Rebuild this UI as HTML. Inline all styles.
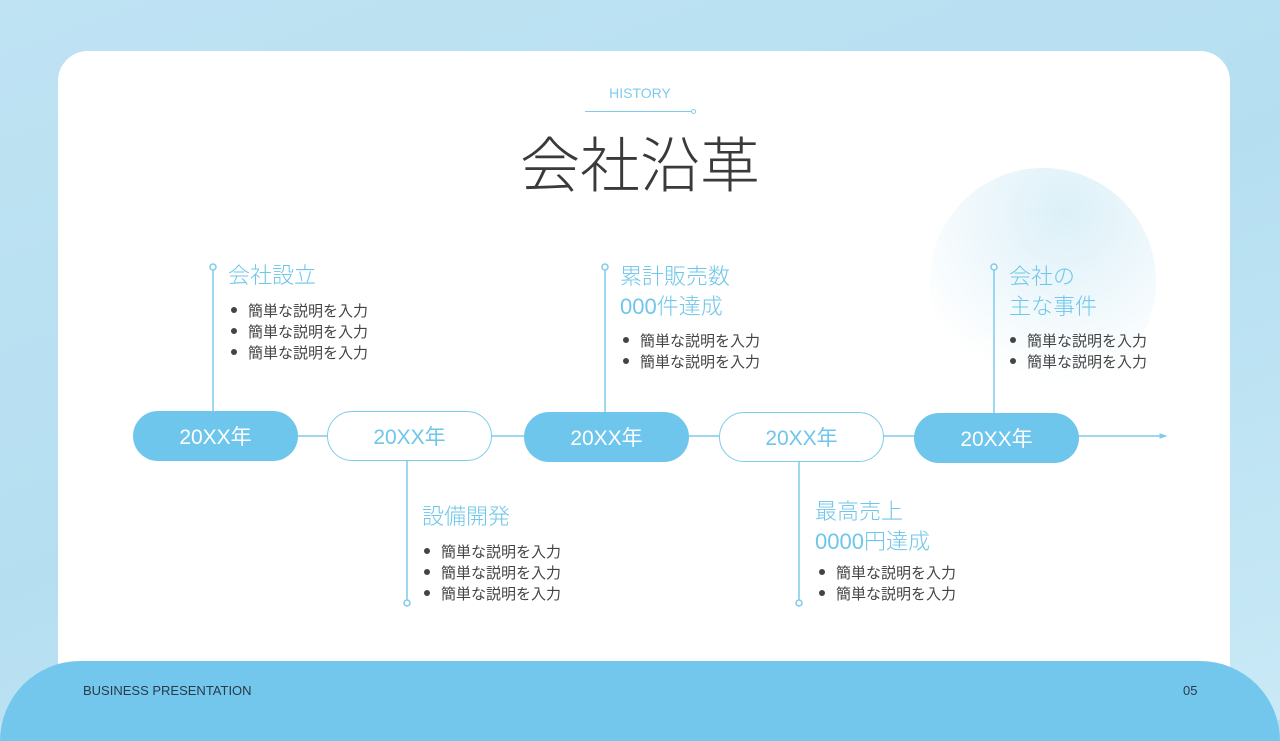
<!DOCTYPE html>
<html><head><meta charset="utf-8"><style>
*{margin:0;padding:0;box-sizing:border-box}
body{width:1280px;height:720px;overflow:hidden;position:relative;background:linear-gradient(160deg,#bfe3f3 0%,#b5dff1 50%,#c9e9f6 100%);font-family:"Liberation Sans","Noto Sans CJK JP",sans-serif}
.card{position:absolute;left:58px;top:51px;width:1172px;height:660px;background:#fff;border-radius:30px;overflow:hidden}
.blob{position:absolute;left:872px;top:117px;width:226px;height:226px;border-radius:50%;background:radial-gradient(circle at 60% 20%,#dcf0f8,#fff 75%)}
.band{position:absolute;left:0;top:661px;width:1280px;height:80px;background:#74c7ec;border-radius:90px 90px 0 0}
.ab{position:absolute}
.pill{position:absolute;width:165px;height:50px;border-radius:25px;font-size:21px;display:flex;align-items:center;justify-content:center}
.f{background:#6ec6ec;color:#fff}
.o{background:#fff;border:1.5px solid #7fcbec;color:#6ec6ea}
.t{position:absolute;color:#6ec6ea;font-size:22px;line-height:30px;font-weight:300}
.b{position:absolute;color:#444;font-size:15px;line-height:21px}
.b div:before{content:"";display:inline-block;width:6px;height:6px;border-radius:50%;background:#444;margin-right:11px;vertical-align:middle;position:relative;top:-2px}
</style></head><body>
<div class="card"><div class="blob"></div></div>
<div class="band"></div>
<div class="ab" style="left:0;top:85px;width:1280px;text-align:center;color:#7fcbec;font-size:14px">HISTORY</div>
<div class="ab" style="left:585px;top:111px;width:108px;height:1px;background:#7fcbec"></div>
<div class="ab" style="left:691px;top:109px;width:5px;height:5px;border:1px solid #7fcbec;border-radius:50%;background:#fff"></div>
<div class="ab" style="left:0;top:130px;width:1280px;text-align:center;color:#3a3a3a;font-size:60px;line-height:74px;font-weight:300">会社沿革</div>
<svg class="ab" style="left:0;top:0" width="1280" height="720">
<g stroke="#7fcbec" stroke-width="1.5" fill="#fff">
<line x1="290" y1="436" x2="1163" y2="436"/>
<polygon points="1166,436 1160,434 1160,438" fill="#7fcbec" stroke-width="1"/>
<line x1="213" y1="270" x2="213" y2="412"/><circle cx="213" cy="267" r="3"/>
<line x1="407" y1="461" x2="407" y2="600"/><circle cx="407" cy="603" r="3"/>
<line x1="605" y1="270" x2="605" y2="413"/><circle cx="605" cy="267" r="3"/>
<line x1="799" y1="462" x2="799" y2="600"/><circle cx="799" cy="603" r="3"/>
<line x1="994" y1="270" x2="994" y2="414"/><circle cx="994" cy="267" r="3"/>
</g></svg>
<div class="pill f" style="left:133px;top:411px">20XX年</div>
<div class="pill o" style="left:327px;top:411px">20XX年</div>
<div class="pill f" style="left:524px;top:412px">20XX年</div>
<div class="pill o" style="left:719px;top:412px">20XX年</div>
<div class="pill f" style="left:914px;top:413px">20XX年</div>
<div class="t" style="left:228px;top:261px">会社設立</div>
<div class="b" style="left:231px;top:301px"><div>簡単な説明を入力</div><div>簡単な説明を入力</div><div>簡単な説明を入力</div></div>
<div class="t" style="left:422px;top:502px">設備開発</div>
<div class="b" style="left:424px;top:542px"><div>簡単な説明を入力</div><div>簡単な説明を入力</div><div>簡単な説明を入力</div></div>
<div class="t" style="left:620px;top:262px">累計販売数<br>000件達成</div>
<div class="b" style="left:623px;top:331px"><div>簡単な説明を入力</div><div>簡単な説明を入力</div></div>
<div class="t" style="left:815px;top:497px">最高売上<br>0000円達成</div>
<div class="b" style="left:819px;top:563px"><div>簡単な説明を入力</div><div>簡単な説明を入力</div></div>
<div class="t" style="left:1009px;top:262px">会社の<br>主な事件</div>
<div class="b" style="left:1010px;top:331px"><div>簡単な説明を入力</div><div>簡単な説明を入力</div></div>
<div class="ab" style="left:83px;top:683px;font-size:13px;color:#2a3a48">BUSINESS PRESENTATION</div>
<div class="ab" style="left:1183px;top:683px;font-size:13px;color:#2a3a48">05</div>
</body></html>
